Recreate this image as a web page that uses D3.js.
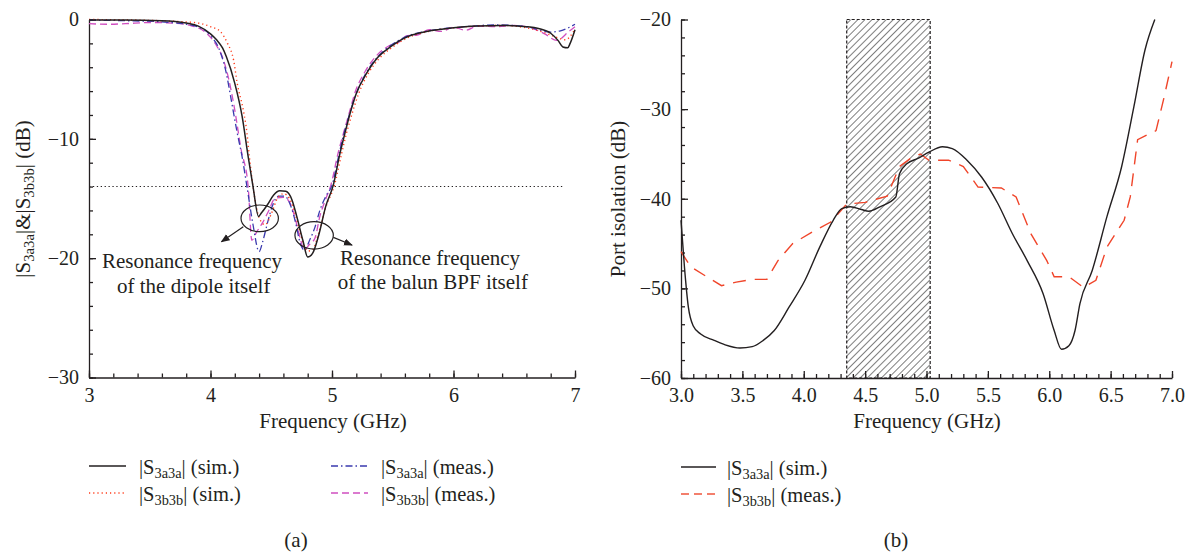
<!DOCTYPE html>
<html>
<head>
<meta charset="utf-8">
<script src="https://cdn.jsdelivr.net/npm/d3@7"></script>
<style>
  body { margin: 0; background: #fff; }
  svg, svg text { font-family: "Liberation Serif", "DejaVu Serif", serif; }
  svg { display: block; }
  .tick text { font-size: 20px; fill: #231f20; font-family: "Liberation Serif", serif; }
  .tick line, .domain { stroke: #231f20; stroke-width: 1.3; }
</style>
</head>
<body>
<svg id="fig" width="1192" height="552"></svg>
<script>
// ---- (a) reflection, frequency in GHz / level in dB
const simAaF  = [3.0, 3.3, 3.6, 3.8, 3.9, 4.0, 4.05, 4.1, 4.13, 4.2, 4.26, 4.31, 4.35, 4.395, 4.42, 4.47, 4.52, 4.57, 4.62, 4.67, 4.71, 4.76, 4.8, 4.84, 4.89, 4.95, 5.01, 5.066, 5.107, 5.148, 5.2, 5.285, 5.37, 5.48, 5.62, 5.71, 6.0, 6.2, 6.4, 6.6, 6.7, 6.8, 6.86, 6.9, 6.94, 6.96, 7.0];
const simAaDb = [-0.05, -0.05, -0.1, -0.3, -0.55, -1.2, -1.7, -2.4, -3.1, -5.35, -8.1, -11.5, -14.0, -16.5, -16.2, -15.5, -14.7, -14.35, -14.4, -15.1, -16.5, -18.5, -19.9, -19.6, -18.1, -15.6, -13.9, -11.2, -9.5, -7.9, -6.2, -4.5, -3.25, -2.3, -1.45, -1.16, -0.7, -0.55, -0.5, -0.6, -0.75, -1.15, -1.75, -2.3, -2.37, -2.0, -0.86];

const simBbF  = [3.0, 3.4, 3.7, 3.9, 4.0, 4.08, 4.14, 4.19, 4.22, 4.27, 4.3, 4.32, 4.35, 4.4, 4.45, 4.5, 4.55, 4.6, 4.65, 4.7, 4.75, 4.8, 4.84, 4.89, 4.95, 5.02, 5.08, 5.12, 5.165, 5.22, 5.3, 5.39, 5.5, 5.64, 5.75, 6.0, 6.4, 6.6, 6.75, 6.85, 6.92, 7.0];
const simBbDb = [0, -0.05, -0.15, -0.3, -0.6, -1.0, -2.0, -3.4, -5.35, -7.6, -9.5, -11.5, -14.0, -16.6, -17.2, -16.3, -15.0, -14.6, -15.0, -16.4, -18.3, -19.4, -19.3, -17.9, -15.7, -13.9, -11.2, -9.5, -7.9, -6.2, -4.5, -3.25, -2.3, -1.45, -1.1, -0.7, -0.5, -0.7, -1.1, -1.5, -1.7, -0.8];

const measAaF  = [3.0, 3.3, 3.6, 3.8, 3.89, 4.01, 4.08, 4.13, 4.17, 4.22, 4.26, 4.3, 4.35, 4.4, 4.43, 4.47, 4.51, 4.56, 4.61, 4.66, 4.7, 4.74, 4.77, 4.82, 4.86, 4.9, 4.95, 5.0, 5.06, 5.1, 5.145, 5.2, 5.28, 5.37, 5.48, 5.62, 5.8, 6.1, 6.35, 6.6, 6.8, 6.88, 7.0];
const measAaDb = [-0.05, -0.1, -0.2, -0.4, -0.6, -1.45, -2.7, -4.5, -6.7, -9.5, -11.5, -14.0, -17.2, -19.45, -18.6, -17.0, -15.6, -14.8, -14.8, -15.6, -17.0, -18.8, -19.3, -18.4, -17.4, -16.0, -14.8, -13.9, -11.2, -9.5, -7.9, -6.2, -4.5, -3.2, -2.2, -1.4, -0.95, -0.6, -0.45, -0.6, -1.05, -0.95, -0.4];

const measBbF  = [3.0, 3.15, 3.3, 3.5, 3.7, 3.85, 3.95, 4.05, 4.1, 4.15, 4.2, 4.25, 4.31, 4.34, 4.38, 4.43, 4.48, 4.53, 4.6, 4.65, 4.7, 4.74, 4.77, 4.81, 4.86, 4.9, 4.95, 4.99, 5.05, 5.095, 5.14, 5.19, 5.27, 5.36, 5.47, 5.55, 5.62, 5.7, 5.8, 5.9, 6.0, 6.1, 6.2, 6.35, 6.5, 6.65, 6.75, 6.85, 6.95, 7.0];
const measBbDb = [-0.35, -0.4, -0.35, -0.25, -0.3, -0.55, -1.0, -2.2, -3.2, -5.0, -7.6, -10.8, -14.0, -18.5, -17.8, -17.0, -16.0, -15.0, -14.9, -15.3, -16.8, -18.4, -19.3, -18.9, -18.3, -16.5, -15.0, -13.9, -11.2, -9.5, -7.9, -6.1, -4.4, -3.1, -2.2, -1.9, -1.35, -1.3, -0.85, -1.0, -0.65, -0.9, -0.55, -0.6, -0.5, -0.75, -1.2, -1.75, -1.0, -0.6];

const refLevel = -14;   // dotted -14 dB line
const refSpan = [3.0, 6.9];

// ---- (b) port isolation
const isoSimF  = [3.0, 3.028, 3.06, 3.1, 3.16, 3.27, 3.36, 3.48, 3.58, 3.67, 3.76, 3.88, 4.01, 4.13, 4.24, 4.31, 4.38, 4.47, 4.53, 4.62, 4.75, 4.78, 4.84, 4.93, 5.02, 5.13, 5.21, 5.33, 5.45, 5.58, 5.7, 5.82, 5.95, 6.04, 6.1, 6.16, 6.21, 6.25, 6.35, 6.47, 6.59, 6.69, 6.78, 6.86];
const isoSimDb = [-42.4, -47.6, -52.1, -54.2, -55.1, -55.8, -56.3, -56.65, -56.5, -55.8, -54.7, -52.1, -49.1, -45.4, -42.4, -41.1, -40.9, -41.2, -41.4, -40.9, -39.8, -37.2, -36.1, -35.5, -34.8, -34.2, -34.4, -35.7, -37.6, -40.5, -43.9, -46.9, -50.6, -54.7, -56.8, -56.4, -54.7, -51.7, -48.0, -42.0, -36.4, -29.7, -23.4, -20.0];

const isoMeasF  = [3.0, 3.08, 3.21, 3.33, 3.45, 3.58, 3.7, 3.79, 3.91, 4.07, 4.22, 4.35, 4.5, 4.68, 4.78, 4.87, 4.95, 5.02, 5.18, 5.3, 5.42, 5.61, 5.73, 5.85, 5.98, 6.04, 6.16, 6.28, 6.38, 6.47, 6.61, 6.66, 6.72, 6.87, 6.93, 7.0];
const isoMeasDb = [-45.9, -47.6, -48.7, -49.7, -49.3, -49.0, -49.0, -46.9, -45.0, -43.7, -42.6, -40.6, -40.4, -39.7, -36.4, -35.5, -35.0, -35.7, -35.7, -36.4, -38.7, -38.8, -39.8, -43.9, -46.9, -48.7, -48.7, -49.9, -49.1, -45.4, -42.4, -39.8, -33.4, -32.4, -29.0, -24.7];

const band = [4.35, 5.03];  // hatched operating band

const svg = d3.select('#fig');
const ink = '#231f20';

svg.append('defs').append('pattern')
    .attr('id', 'hatch')
    .attr('width', 5).attr('height', 5)
    .attr('patternUnits', 'userSpaceOnUse')
    .attr('patternTransform', 'rotate(45)')
  .append('line')
    .attr('x1', 0).attr('y1', -1).attr('x2', 0).attr('y2', 6)
    .attr('stroke', '#111').attr('stroke-width', 1.1);

svg.select('defs').append('marker')
    .attr('id', 'arrow')
    .attr('viewBox', '0 0 10 10')
    .attr('refX', 9).attr('refY', 5)
    .attr('markerWidth', 9).attr('markerHeight', 9)
    .attr('markerUnits', 'userSpaceOnUse')
    .attr('orient', 'auto')
  .append('path')
    .attr('d', 'M0,1 L10,5 L0,9 Z')
    .attr('fill', ink);

function drawAxes(g, x, y, xMajor, xMinor, yMajor, yMinor, xFmt) {
  const y0 = y.range()[0], x0 = x.range()[0];
  g.append('g').attr('transform', `translate(0,${y0})`)
    .call(d3.axisBottom(x).tickValues(xMinor).tickSize(-4).tickFormat(''))
    .call(s => s.select('.domain').remove());
  g.append('g').attr('transform', `translate(0,${y0})`)
    .call(d3.axisBottom(x).tickValues(xMajor).tickSizeInner(-7).tickSizeOuter(0).tickPadding(10).tickFormat(xFmt));
  g.append('g').attr('transform', `translate(${x0},0)`)
    .call(d3.axisLeft(y).tickValues(yMinor).tickSize(-4).tickFormat(''))
    .call(s => s.select('.domain').remove());
  g.append('g').attr('transform', `translate(${x0},0)`)
    .call(d3.axisLeft(y).tickValues(yMajor).tickSizeInner(-7).tickSizeOuter(0).tickPadding(10).tickFormat(d3.format('d')));
  g.selectAll('g').attr('font-family', null);
}

// subscript text helper: parts = [[text, isSub], ...]
function richText(sel, parts, size) {
  let down = false;
  parts.forEach(([t, sub]) => {
    const ts = sel.append('tspan').text(t);
    if (sub && !down) { ts.attr('dy', 4).attr('font-size', size * 0.7); down = true; }
    else if (!sub && down) { ts.attr('dy', -4); down = false; }
  });
}

const line = (x, y, curve) => d3.line().x(d => x(d[0])).y(d => y(d[1])).curve(curve);

// ================= (a)
const xa = d3.scaleLinear().domain([3, 7]).range([89, 575]);
const ya = d3.scaleLinear().domain([-30, 0]).range([377.5, 19.5]);
const ga = svg.append('g');

drawAxes(ga, xa, ya, d3.range(3, 7.01, 1), d3.range(3, 7.01, 0.2), d3.range(-30, 0.1, 10), d3.range(-30, 0.1, 2), d3.format('d'));

ga.append('line')
    .attr('x1', xa(refSpan[0])).attr('x2', xa(refSpan[1]))
    .attr('y1', ya(refLevel)).attr('y2', ya(refLevel))
    .attr('stroke', ink).attr('stroke-width', 1.1).attr('stroke-dasharray', '1.3,2.6');

const seriesA = [
  {f: measBbF, v: measBbDb, color: '#d04fc0', dash: '7,4', w: 1.3},
  {f: measAaF, v: measAaDb, color: '#3a3aae', dash: '7,3,1.5,3', w: 1.3},
  {f: simBbF,  v: simBbDb,  color: '#ff3b1a', dash: '1.2,3', w: 1.4},
  {f: simAaF,  v: simAaDb,  color: ink,       dash: null, w: 1.5}
];
seriesA.forEach(s => {
  ga.append('path')
    .datum(s.f.map((f, i) => [f, s.v[i]]))
    .attr('d', line(xa, ya, d3.curveMonotoneX))
    .attr('fill', 'none')
    .attr('stroke', s.color)
    .attr('stroke-width', s.w)
    .attr('stroke-dasharray', s.dash);
});

// annotations
const rings = [
  {f: 4.405, v: -16.66, rx: 18.7, ry: 13.3},
  {f: 4.853, v: -18.09, rx: 19.2, ry: 13.7}
];
ga.selectAll('ellipse').data(rings).join('ellipse')
    .attr('cx', d => xa(d.f)).attr('cy', d => ya(d.v))
    .attr('rx', d => d.rx).attr('ry', d => d.ry)
    .attr('fill', 'none').attr('stroke', ink).attr('stroke-width', 1.2);

const arrows = [
  {from: [4.27, -17.37], to: [4.09, -18.62]},
  {from: [5.011, -18.26], to: [5.165, -18.9]}
];
ga.selectAll('line.arrow').data(arrows).join('line')
    .attr('class', 'arrow')
    .attr('x1', d => xa(d.from[0])).attr('y1', d => ya(d.from[1]))
    .attr('x2', d => xa(d.to[0])).attr('y2', d => ya(d.to[1]))
    .attr('stroke', ink).attr('stroke-width', 1.2)
    .attr('marker-end', 'url(#arrow)');

const notes = [
  {f: 3.848, v: -20.83, t: 'Resonance frequency'},
  {f: 3.862, v: -22.9,  t: 'of the dipole itself'},
  {f: 5.807, v: -20.58, t: 'Resonance frequency'},
  {f: 5.83,  v: -22.6,  t: 'of the balun BPF itself'}
];
ga.selectAll('text.note').data(notes).join('text')
    .attr('class', 'note')
    .attr('x', d => xa(d.f)).attr('y', d => ya(d.v))
    .attr('text-anchor', 'middle')
    .attr('font-size', 21).attr('fill', ink)
    .text(d => d.t);

ga.append('text')
    .attr('x', 333).attr('y', 428)
    .attr('text-anchor', 'middle').attr('font-size', 21).attr('fill', ink)
    .text('Frequency (GHz)');

ga.append('text')
    .attr('transform', 'translate(30,199) rotate(-90)')
    .attr('text-anchor', 'middle').attr('font-size', 21).attr('fill', ink)
    .call(richText, [['|S', 0], ['3a3a', 1], ['|&|S', 0], ['3b3b', 1], ['| (dB)', 0]], 21);

// legend (a)
const legA = [
  {x: 89,  y: 466, c: seriesA[3], parts: [['|S', 0], ['3a3a', 1], ['| (sim.)', 0]]},
  {x: 89,  y: 493, c: seriesA[2], parts: [['|S', 0], ['3b3b', 1], ['| (sim.)', 0]]},
  {x: 331, y: 466, c: seriesA[1], parts: [['|S', 0], ['3a3a', 1], ['| (meas.)', 0]]},
  {x: 331, y: 493, c: seriesA[0], parts: [['|S', 0], ['3b3b', 1], ['| (meas.)', 0]]}
];
legA.forEach(d => {
  ga.append('line')
    .attr('x1', d.x).attr('x2', d.x + 37).attr('y1', d.y).attr('y2', d.y)
    .attr('stroke', d.c.color).attr('stroke-width', d.c.w).attr('stroke-dasharray', d.c.dash);
  ga.append('text')
    .attr('x', d.x + 50).attr('y', d.y + 8)
    .attr('font-size', 20.5).attr('fill', ink)
    .call(richText, d.parts, 20.5);
});

ga.append('text')
    .attr('x', 296).attr('y', 547)
    .attr('text-anchor', 'middle').attr('font-size', 21).attr('fill', ink)
    .text('(a)');

// ================= (b)
const xb = d3.scaleLinear().domain([3, 7]).range([681, 1172]);
const yb = d3.scaleLinear().domain([-60, -20]).range([378, 19.5]);
const gb = svg.append('g');

gb.append('rect')
    .attr('x', xb(band[0])).attr('width', xb(band[1]) - xb(band[0]))
    .attr('y', yb(-20)).attr('height', yb(-60) - yb(-20))
    .attr('fill', 'url(#hatch)')
    .attr('stroke', ink).attr('stroke-width', 1.2).attr('stroke-dasharray', '3,2');

drawAxes(gb, xb, yb, d3.range(3, 7.01, 0.5), d3.range(3, 7.01, 0.1), d3.range(-60, -19.9, 10), d3.range(-60, -19.9, 2), d3.format('.1f'));

gb.append('path')
    .datum(isoMeasF.map((f, i) => [f, isoMeasDb[i]]))
    .attr('d', line(xb, yb, d3.curveLinear))
    .attr('fill', 'none').attr('stroke', '#f0452a').attr('stroke-width', 1.4)
    .attr('stroke-dasharray', '13,9');

gb.append('path')
    .datum(isoSimF.map((f, i) => [f, isoSimDb[i]]))
    .attr('d', line(xb, yb, d3.curveMonotoneX))
    .attr('fill', 'none').attr('stroke', ink).attr('stroke-width', 1.4);

gb.append('text')
    .attr('x', 927).attr('y', 428)
    .attr('text-anchor', 'middle').attr('font-size', 21).attr('fill', ink)
    .text('Frequency (GHz)');

gb.append('text')
    .attr('transform', 'translate(625,199) rotate(-90)')
    .attr('text-anchor', 'middle').attr('font-size', 21).attr('fill', ink)
    .text('Port isolation (dB)');

const legB = [
  {y: 467, color: ink, dash: null, parts: [['|S', 0], ['3a3a', 1], ['| (sim.)', 0]]},
  {y: 494, color: '#f0563c', dash: '8,5', parts: [['|S', 0], ['3b3b', 1], ['| (meas.)', 0]]}
];
legB.forEach(d => {
  gb.append('line')
    .attr('x1', 681).attr('x2', 716).attr('y1', d.y).attr('y2', d.y)
    .attr('stroke', d.color).attr('stroke-width', 1.4).attr('stroke-dasharray', d.dash);
  gb.append('text')
    .attr('x', 727).attr('y', d.y + 8)
    .attr('font-size', 20.5).attr('fill', ink)
    .call(richText, d.parts, 20.5);
});

gb.append('text')
    .attr('x', 896).attr('y', 547)
    .attr('text-anchor', 'middle').attr('font-size', 21).attr('fill', ink)
    .text('(b)');
</script>
</body>
</html>
